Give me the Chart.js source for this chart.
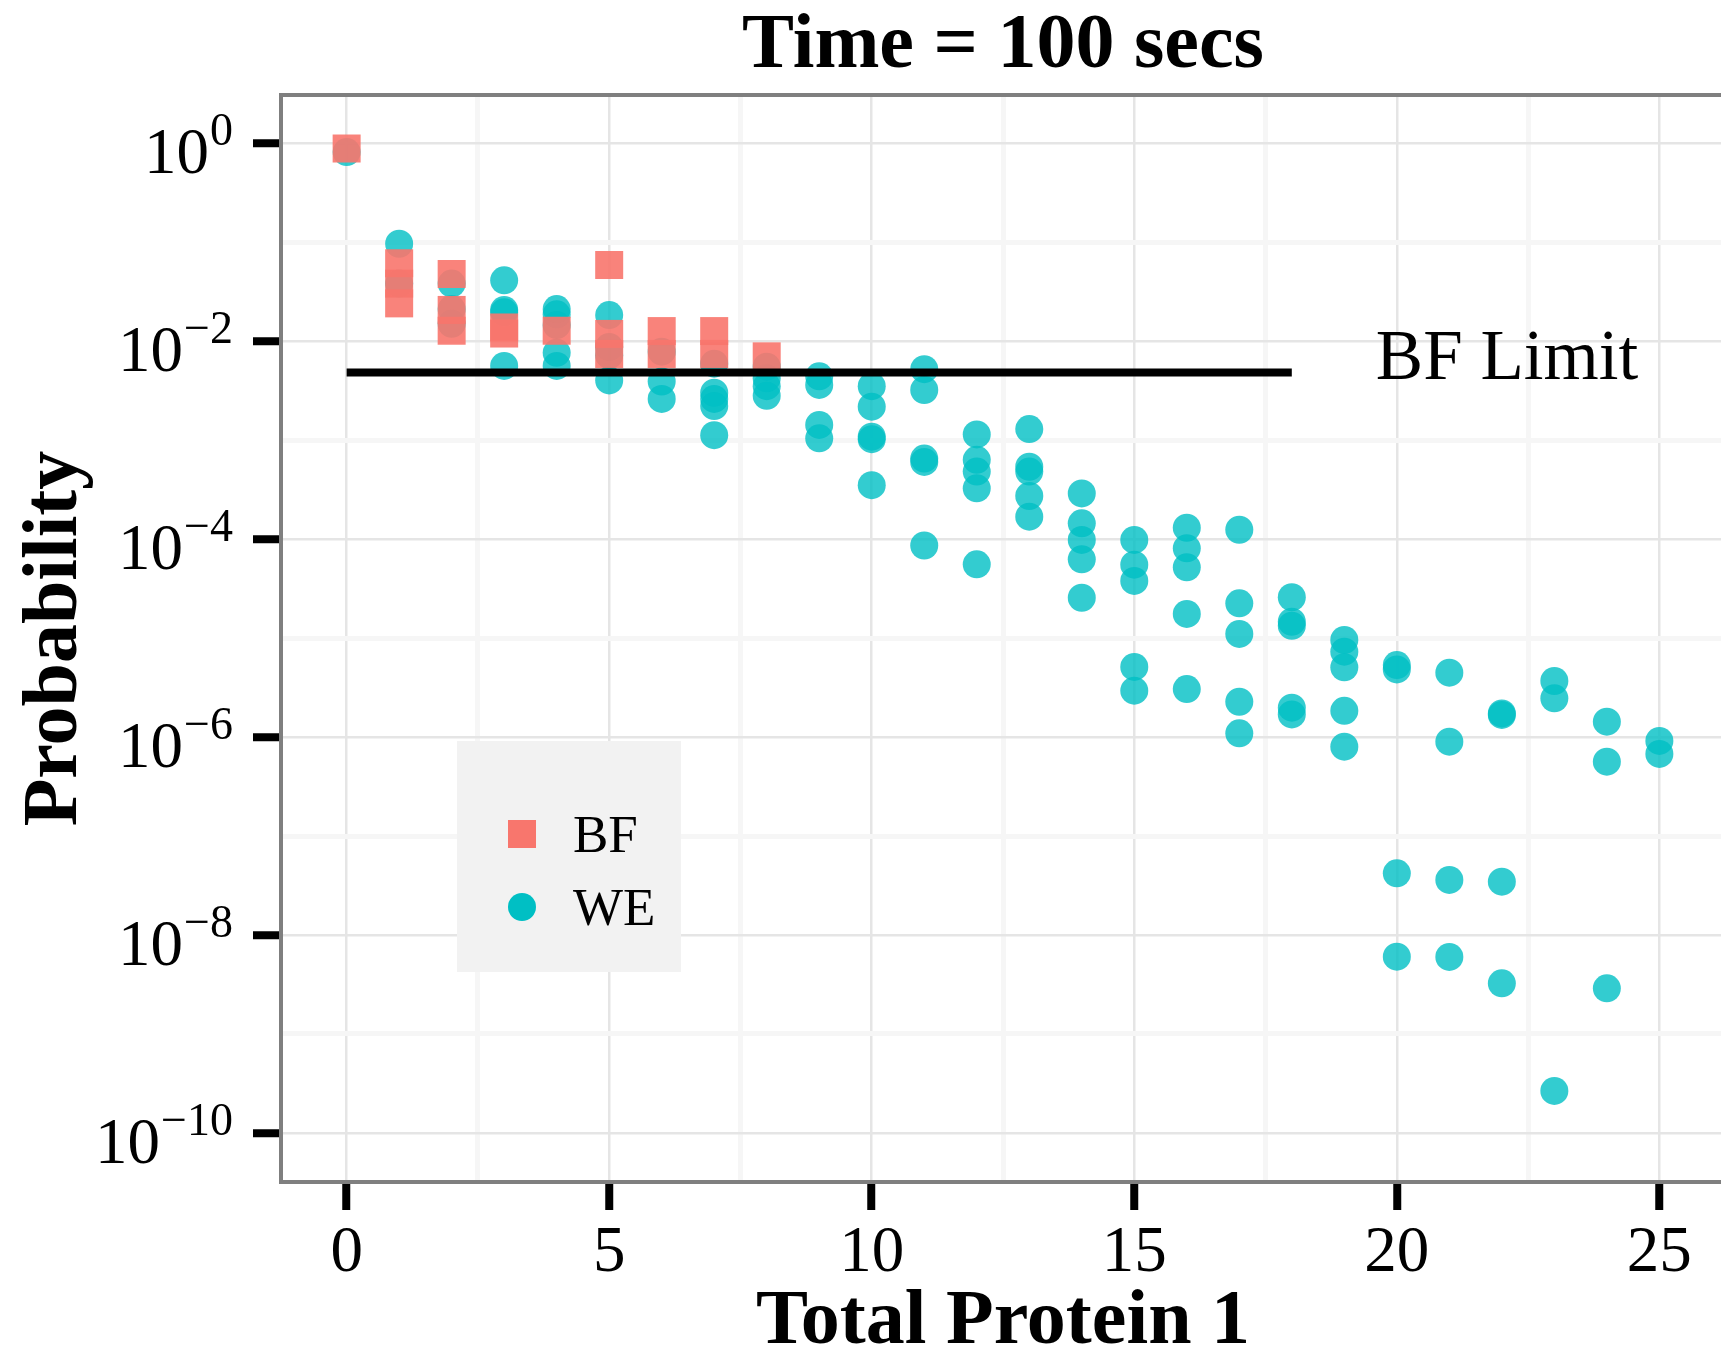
<!DOCTYPE html>
<html>
<head>
<meta charset="utf-8">
<title>Time = 100 secs</title>
<script src="https://cdn.jsdelivr.net/npm/chart.js@4.4.1/dist/chart.umd.min.js"></script>
<style>
  html, body { margin: 0; padding: 0; background: #fff; overflow: hidden; }
  #wrap { width: 1740px; height: 1357px; }
</style>
</head>
<body>
<div id="wrap"><canvas id="chart" width="1740" height="1357"></canvas></div>
<script>
// === Data: probability per "Total Protein 1" count (index = count) ===
const bfProbByCount = [
  [0.88],
  [0.061, 0.038, 0.024],
  [0.0475, 0.0206, 0.0127],
  [0.0137, 0.0119],
  [0.0127],
  [0.0586, 0.0118, 0.0074],
  [0.0126, 0.0074],
  [0.0126, 0.0074],
  [0.0070]
];
const weProbByCount = [
  [0.81],
  [0.096, 0.038],
  [0.038, 0.021, 0.0149],
  [0.041, 0.0206, 0.0195, 0.0056],
  [0.021, 0.0186, 0.0145, 0.0076, 0.0056],
  [0.0183, 0.0087, 0.0072, 0.0040],
  [0.0078, 0.0039, 0.0026],
  [0.0059, 0.0030, 0.0026, 0.0022, 0.00112],
  [0.0055, 0.0042, 0.0035, 0.0028],
  [0.0044, 0.0036, 0.00142, 0.00104],
  [0.0035, 0.00217, 0.00108, 0.00102, 0.00035],
  [0.0052, 0.0032, 0.00065, 0.00060, 8.6e-5],
  [0.00114, 0.00063, 0.00048, 0.000325, 5.55e-5],
  [0.00129, 0.000537, 0.00048, 0.000272, 0.000168],
  [0.000289, 0.000144, 9.8e-5, 6.24e-5, 2.55e-5],
  [9.8e-5, 5.5e-5, 3.77e-5, 5.1e-6, 2.94e-6],
  [1.3e-4, 8.05e-5, 5.18e-5, 1.75e-5, 3.05e-6],
  [1.24e-4, 2.24e-5, 1.1e-5, 2.27e-6, 1.09e-6],
  [2.58e-5, 1.46e-5, 1.33e-5, 1.98e-6, 1.69e-6],
  [9.55e-6, 7.27e-6, 5.06e-6, 1.84e-6, 7.98e-7],
  [5.33e-6, 4.82e-6, 4.2e-8, 6.04e-9],
  [4.46e-6, 8.97e-7, 3.6e-8, 6.0e-9],
  [1.73e-6, 1.67e-6, 3.46e-8, 3.25e-9],
  [3.68e-6, 2.46e-6, 2.66e-10],
  [1.43e-6, 5.63e-7, 2.89e-9],
  [9.12e-7, 6.75e-7]
];
const limitCount = [0, 18];
const limitProb = [0.0048, 0.0048];
const limitLabel = 'BF Limit';

const xTicks = [0, 5, 10, 15, 20, 25];
const yExponents = [0, -1, -2, -3, -4, -5, -6, -7, -8, -9, -10];

const seriesNames = ['BF', 'WE'];
const seriesColors = ['#F8766D', '#00BFC4'];

// === Helpers ===
const SERIF = "'Liberation Serif', 'Times New Roman', serif";

function toPoints(byCount) {
  const pts = [];
  byCount.forEach((vals, count) => vals.forEach(p => pts.push({ x: count, y: p })));
  return pts;
}

const xMinor = xTicks.slice(0, -1).map((v, i) => (v + xTicks[i + 1]) / 2);
const isMajorX = v => xTicks.includes(v);
const expOf = v => Math.round(Math.log10(v));
const isMajorY = v => expOf(v) % 2 === 0;

// === Plugins: power-of-ten labels, legend, limit label, panel border ===
const panelExtras = {
  id: 'panelExtras',
  afterDatasetsDraw(chart) {
    const { ctx, scales } = chart;
    ctx.save();
    ctx.fillStyle = '#000';
    ctx.textBaseline = 'alphabetic';

    // y tick labels 10^e with a real superscript
    const right = scales.y.right - 28 - 20;
    yExponents.filter(e => e % 2 === 0).forEach(e => {
      const py = scales.y.getPixelForValue(Math.pow(10, e));
      const expText = (e < 0 ? '\u2212' : '') + Math.abs(e);
      ctx.textAlign = 'right';
      ctx.font = `46px ${SERIF}`;
      const w = ctx.measureText(expText).width;
      ctx.fillText(expText, right, py + 2);
      ctx.font = `65px ${SERIF}`;
      ctx.fillText('10', right - w - 1, py + 30);
    });

    // BF Limit label
    ctx.textAlign = 'left';
    ctx.font = `71px ${SERIF}`;
    ctx.fillText(limitLabel, scales.x.getPixelForValue(19.6), 379);

    // legend box
    ctx.fillStyle = '#f2f2f2';
    ctx.fillRect(457, 741, 224, 231);
    ctx.fillStyle = seriesColors[0];
    ctx.fillRect(508, 820, 28, 28);
    ctx.fillStyle = seriesColors[1];
    ctx.beginPath();
    ctx.arc(522, 907, 14, 0, Math.PI * 2);
    ctx.fill();
    ctx.fillStyle = '#000';
    ctx.font = `53px ${SERIF}`;
    ctx.fillText(seriesNames[0], 573, 852);
    ctx.fillText(seriesNames[1], 573, 925);
    ctx.restore();
  },
  afterDraw(chart) {
    const { ctx, chartArea: a } = chart;
    ctx.save();
    ctx.strokeStyle = '#7f7f7f';
    ctx.lineWidth = 4;
    ctx.strokeRect(a.left, a.top, a.right - a.left, a.bottom - a.top);
    ctx.restore();
  }
};

// === Chart ===
new Chart(document.getElementById('chart'), {
  data: {
    datasets: [
      {
        type: 'line',
        label: limitLabel,
        data: limitCount.map((x, i) => ({ x, y: limitProb[i] })),
        borderColor: '#000',
        borderWidth: 8,
        pointRadius: 0,
        fill: false
      },
      {
        type: 'scatter',
        label: seriesNames[0],
        data: toPoints(bfProbByCount),
        pointStyle: 'rect',
        pointRadius: 19.8,
        borderWidth: 0,
        backgroundColor: 'rgba(248,118,109,0.9)'
      },
      {
        type: 'scatter',
        label: seriesNames[1],
        data: toPoints(weProbByCount),
        pointStyle: 'circle',
        pointRadius: 14,
        borderWidth: 0,
        backgroundColor: 'rgba(0,191,196,0.8)'
      }
    ]
  },
  options: {
    responsive: false,
    animation: false,
    devicePixelRatio: 1,
    layout: { autoPadding: false, padding: { left: 0, right: 15, top: 0, bottom: 0 } },
    plugins: {
      legend: { display: false },
      tooltip: { enabled: false },
      title: {
        display: true,
        text: 'Time = 100 secs',
        fullSize: false,
        color: '#000',
        font: { family: SERIF, size: 78, weight: 'bold', lineHeight: 1.2 },
        padding: { top: 0, bottom: 1.4 }
      }
    },
    scales: {
      x: {
        type: 'linear',
        min: -1.25,
        max: 26.25,
        afterBuildTicks: s => {
          s.ticks = xTicks.concat(xMinor).sort((a, b) => a - b).map(v => ({ value: v }));
        },
        afterFit: s => {
          s.height = 175;
          s.paddingLeft = 0;
          s.paddingRight = 0;
        },
        ticks: {
          autoSkip: false,
          maxRotation: 0,
          padding: 5,
          color: '#000',
          font: { family: SERIF, size: 65, lineHeight: 1.2 },
          callback: v => (isMajorX(v) ? String(v) : '')
        },
        grid: {
          color: c => (isMajorX(c.tick.value) ? '#e5e5e5' : '#f6f6f6'),
          lineWidth: c => (isMajorX(c.tick.value) ? 2.5 : 5),
          tickLength: 28,
          tickColor: '#000',
          tickWidth: c => (isMajorX(c.tick.value) ? 8 : 0)
        },
        border: { display: false },
        title: {
          display: true,
          text: 'Total Protein 1',
          color: '#000',
          font: { family: SERIF, size: 78, weight: 'bold', lineHeight: 0.87 },
          padding: { top: 0, bottom: 0 }
        }
      },
      y: {
        type: 'logarithmic',
        min: Math.pow(10, -10.495),
        max: Math.pow(10, 0.485),
        afterBuildTicks: s => {
          s.ticks = yExponents.map(e => ({ value: Math.pow(10, e) }));
        },
        afterFit: s => {
          s.width = 281;
          s.paddingTop = 0;
          s.paddingBottom = 0;
        },
        ticks: { display: false },
        grid: {
          color: c => (isMajorY(c.tick.value) ? '#e5e5e5' : '#f6f6f6'),
          lineWidth: c => (isMajorY(c.tick.value) ? 2.5 : 5),
          tickLength: 28,
          tickColor: '#000',
          tickWidth: c => (isMajorY(c.tick.value) ? 8 : 0)
        },
        border: { display: false },
        title: {
          display: true,
          text: 'Probability',
          color: '#000',
          font: { family: SERIF, size: 78, weight: 'bold', lineHeight: 0.87 },
          padding: { top: 22, bottom: 0 }
        }
      }
    }
  },
  plugins: [panelExtras]
});
</script>
</body>
</html>
